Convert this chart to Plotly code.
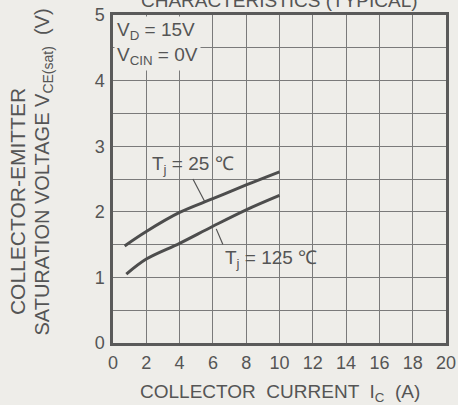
import plotly.graph_objects as go

# Data
ic_25 = [0.7, 2, 4, 6, 8, 10]
vce_25 = [1.48, 1.70, 1.99, 2.20, 2.41, 2.61]
ic_125 = [0.8, 2, 4, 6, 8, 10]
vce_125 = [1.05, 1.28, 1.52, 1.78, 2.03, 2.25]

x_ticks = [0, 2, 4, 6, 8, 10, 12, 14, 16, 18, 20]
y_ticks = [0, 1, 2, 3, 4, 5]
x_grid = [2, 4, 6, 8, 10, 12, 14, 16, 18]
y_grid = [0.5, 1, 1.5, 2, 2.5, 3, 3.5, 4, 4.5]

BG = "#eeede9"
INK = "#4d4d4d"
GRID = "#7a7a7a"
TXT = "#555555"
FONT = "Liberation Sans"

fig = go.Figure()
fig.add_trace(go.Scatter(x=ic_25, y=vce_25, mode="lines", line=dict(color=INK, width=3, shape="spline"),
                         showlegend=False, hoverinfo="skip"))
fig.add_trace(go.Scatter(x=ic_125, y=vce_125, mode="lines", line=dict(color=INK, width=3, shape="spline"),
                         showlegend=False, hoverinfo="skip"))

fig.update_layout(
    width=458, height=405,
    margin=dict(l=113, r=12, t=15, b=62, autoexpand=False),
    paper_bgcolor=BG, plot_bgcolor=BG,
    font=dict(family=FONT, color=TXT, size=18),
    xaxis=dict(range=[0, 20], tickmode="array", tickvals=x_ticks, showgrid=False,
               zeroline=False, showline=True, linecolor="#5a5a5a", linewidth=2.5, mirror=True,
               ticks="outside", ticklen=2, tickcolor=BG, automargin=False, tickfont=dict(size=18)),
    yaxis=dict(range=[0, 5], tickmode="array", tickvals=y_ticks, showgrid=False,
               zeroline=False, showline=True, linecolor="#5a5a5a", linewidth=2.5, mirror=True,
               ticks="outside", ticklen=2, tickcolor=BG, automargin=False, tickfont=dict(size=18)),
    # grid axes: grid drawn as minor gridlines on overlaid axes
    xaxis2=dict(range=[0, 20], overlaying="x", anchor="y", side="bottom", showticklabels=False,
                tickmode="array", tickvals=[-10], showgrid=False, zeroline=False, showline=False,
                ticks="", automargin=False,
                minor=dict(tickmode="array", tickvals=x_grid, showgrid=True, gridcolor=GRID,
                           gridwidth=1, ticks="")),
    yaxis2=dict(range=[0, 5], overlaying="y", anchor="x", side="left", showticklabels=False,
                tickmode="array", tickvals=[-10], showgrid=False, zeroline=False, showline=False,
                ticks="", automargin=False,
                minor=dict(tickmode="array", tickvals=y_grid, showgrid=True, gridcolor=GRID,
                           gridwidth=1, ticks="")),
)
# invisible trace so the grid axes are drawn
fig.add_trace(go.Scatter(x=[None], y=[None], xaxis="x2", yaxis="y2", showlegend=False, hoverinfo="skip"))

ann = []
# cut-off title at the top
ann.append(dict(text="CHARACTERISTICS (TYPICAL)", xref="paper", yref="paper", x=0.5, y=1.006,
                xanchor="center", yanchor="bottom", showarrow=False, font=dict(size=19, color=TXT)))
# x-axis title
ann.append(dict(text="COLLECTOR  CURRENT  I<sub>C</sub>  (A)", xref="paper", yref="paper", x=0.5, y=-0.152,
                xanchor="center", yanchor="middle", showarrow=False, font=dict(size=19, color=TXT)))
# y-axis titles (two lines)
ann.append(dict(text="COLLECTOR-EMITTER", xref="paper", yref="paper", x=-0.285, y=0.43,
                xanchor="center", yanchor="middle", textangle=-90, showarrow=False,
                font=dict(size=21, color=TXT)))
ann.append(dict(text="SATURATION VOLTAGE V<sub>CE(sat)</sub>  (V)", xref="paper", yref="paper", x=-0.21, y=0.52,
                xanchor="center", yanchor="middle", textangle=-90, showarrow=False,
                font=dict(size=20, color=TXT)))
# condition box
ann.append(dict(text="V<sub>D</sub> = 15V<br>V<sub>CIN</sub> = 0V", xref="x", yref="y", x=0.05, y=4.98,
                xanchor="left", yanchor="top", align="left", showarrow=False, bgcolor=BG,
                borderpad=2, font=dict(size=19, color=TXT)))
# curve labels with leader lines
ann.append(dict(text="T<sub>j</sub> = 25 ℃", xref="x", yref="y", x=5.5, y=2.16, ax=4.8, ay=2.5,
                axref="x", ayref="y", showarrow=True, arrowhead=0, arrowwidth=1.2, arrowcolor=TXT,
                yanchor="bottom", font=dict(size=19, color=TXT)))
ann.append(dict(text="T<sub>j</sub> = 125 ℃", xref="x", yref="y", x=6.2, y=1.74, ax=6.6, ay=1.5,
                axref="x", ayref="y", showarrow=True, arrowhead=0, arrowwidth=1.2, arrowcolor=TXT,
                xanchor="left", yanchor="top", font=dict(size=19, color=TXT)))
fig.update_layout(annotations=ann)

fig.write_html("out.html", config={"displayModeBar": False},
               post_script="document.body.style.margin='0';document.body.style.background='%s';" % BG)
